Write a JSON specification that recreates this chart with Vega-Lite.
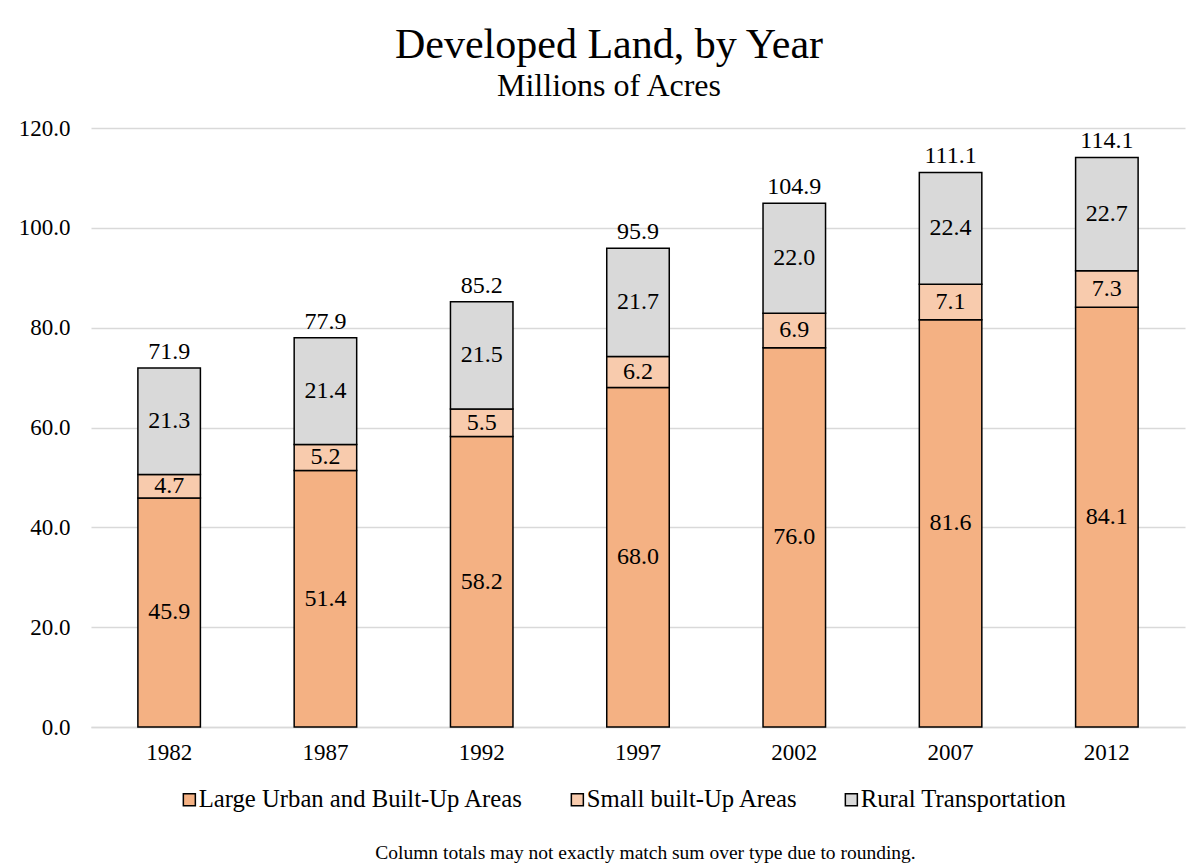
{
  "$schema": "https://vega.github.io/schema/vega-lite/v6.json",
  "width": 1094,
  "height": 599,
  "autosize": "none",
  "padding": {"left": 91, "top": 128, "right": 9, "bottom": 141},
  "background": "white",
  "title": {
    "text": "Developed Land, by Year",
    "subtitle": "Millions of Acres",
    "font": "Liberation Serif",
    "subtitleFont": "Liberation Serif",
    "fontSize": 42,
    "subtitleFontSize": 32,
    "fontWeight": "normal",
    "color": "black",
    "subtitleColor": "black",
    "anchor": "middle",
    "frame": "group",
    "dx": -29,
    "offset": 14,
    "subtitlePadding": 4
  },
  "datasets": {
    "land": [
      {"year": "1982", "type": "Large Urban and Built-Up Areas", "value": 45.9},
      {"year": "1982", "type": "Small built-Up Areas", "value": 4.7},
      {"year": "1982", "type": "Rural Transportation", "value": 21.3},
      {"year": "1987", "type": "Large Urban and Built-Up Areas", "value": 51.4},
      {"year": "1987", "type": "Small built-Up Areas", "value": 5.2},
      {"year": "1987", "type": "Rural Transportation", "value": 21.4},
      {"year": "1992", "type": "Large Urban and Built-Up Areas", "value": 58.2},
      {"year": "1992", "type": "Small built-Up Areas", "value": 5.5},
      {"year": "1992", "type": "Rural Transportation", "value": 21.5},
      {"year": "1997", "type": "Large Urban and Built-Up Areas", "value": 68.0},
      {"year": "1997", "type": "Small built-Up Areas", "value": 6.2},
      {"year": "1997", "type": "Rural Transportation", "value": 21.7},
      {"year": "2002", "type": "Large Urban and Built-Up Areas", "value": 76.0},
      {"year": "2002", "type": "Small built-Up Areas", "value": 6.9},
      {"year": "2002", "type": "Rural Transportation", "value": 22.0},
      {"year": "2007", "type": "Large Urban and Built-Up Areas", "value": 81.6},
      {"year": "2007", "type": "Small built-Up Areas", "value": 7.1},
      {"year": "2007", "type": "Rural Transportation", "value": 22.4},
      {"year": "2012", "type": "Large Urban and Built-Up Areas", "value": 84.1},
      {"year": "2012", "type": "Small built-Up Areas", "value": 7.3},
      {"year": "2012", "type": "Rural Transportation", "value": 22.7}
    ],
    "totals": [
      {"year": "1982", "total": 71.9},
      {"year": "1987", "total": 77.9},
      {"year": "1992", "total": 85.2},
      {"year": "1997", "total": 95.9},
      {"year": "2002", "total": 104.9},
      {"year": "2007", "total": 111.1},
      {"year": "2012", "total": 114.1}
    ]
  },
  "encoding": {
    "x": {
      "field": "year",
      "type": "nominal",
      "scale": {"paddingInner": 0.6, "paddingOuter": 0.3},
      "axis": {
        "title": "Column totals may not exactly match sum over type due to rounding.",
        "titleFont": "Liberation Serif",
        "titleFontSize": 19.5,
        "titleFontWeight": "normal",
        "titleColor": "black",
        "titleY": 131,
        "titleX": 554,
        "titleBaseline": "alphabetic",
        "labelFont": "Liberation Serif",
        "labelFontSize": 23,
        "labelColor": "black",
        "labelAngle": 0,
        "labelPadding": 14,
        "ticks": false,
        "domainColor": "#D9D9D9",
        "domainWidth": 1.5
      }
    }
  },
  "layer": [
    {
      "data": {"name": "land"},
      "transform": [
        {"calculate": "indexof(['Large Urban and Built-Up Areas','Small built-Up Areas','Rural Transportation'], datum.type)", "as": "ord"}
      ],
      "mark": {"type": "bar", "stroke": "black", "strokeWidth": 1.5},
      "encoding": {
        "y": {
          "field": "value",
          "type": "quantitative",
          "stack": "zero",
          "scale": {"domain": [0, 120], "nice": false},
          "axis": {
            "title": null,
            "values": [0, 20, 40, 60, 80, 100, 120],
            "format": ".1f",
            "labelFont": "Liberation Serif",
            "labelFontSize": 23,
            "labelColor": "black",
            "labelPadding": 21,
            "ticks": false,
            "domain": false,
            "grid": true,
            "gridColor": "#D9D9D9",
            "gridWidth": 1.5
          }
        },
        "color": {
          "field": "type",
          "type": "nominal",
          "scale": {
            "domain": ["Large Urban and Built-Up Areas", "Small built-Up Areas", "Rural Transportation"],
            "range": ["#F4B183", "#F8CBAD", "#D9D9D9"]
          },
          "legend": {
            "title": null,
            "orient": "none",
            "direction": "horizontal",
            "legendX": 86,
            "legendY": 659,
            "symbolType": "square",
            "symbolSize": 144,
            "symbolStrokeColor": "black",
            "symbolStrokeWidth": 1.5,
            "symbolOpacity": 1,
            "labelFont": "Liberation Serif",
            "labelFontSize": 24.7,
            "labelColor": "black",
            "labelOffset": -3,
            "labelLimit": 0,
            "columnPadding": 41
          }
        },
        "order": {"field": "ord", "type": "quantitative"}
      }
    },
    {
      "data": {"name": "land"},
      "transform": [
        {"calculate": "indexof(['Large Urban and Built-Up Areas','Small built-Up Areas','Rural Transportation'], datum.type)", "as": "ord"},
        {"stack": "value", "groupby": ["year"], "sort": [{"field": "ord", "order": "ascending"}], "as": ["v0", "v1"]},
        {"calculate": "(datum.v0 + datum.v1) / 2", "as": "mid"}
      ],
      "mark": {"type": "text", "font": "Liberation Serif", "fontSize": 24, "color": "black", "baseline": "middle"},
      "encoding": {
        "y": {"field": "mid", "type": "quantitative"},
        "text": {"field": "value", "type": "quantitative", "format": ".1f"}
      }
    },
    {
      "data": {"name": "totals"},
      "mark": {"type": "text", "font": "Liberation Serif", "fontSize": 24, "color": "black", "baseline": "alphabetic", "dy": -9},
      "encoding": {
        "y": {"field": "total", "type": "quantitative"},
        "text": {"field": "total", "type": "quantitative", "format": ".1f"}
      }
    }
  ],
  "config": {
    "view": {"stroke": null},
    "font": "Liberation Serif"
  }
}
